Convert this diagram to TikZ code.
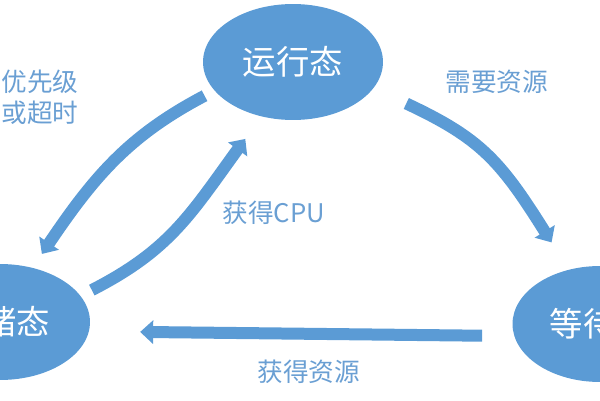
\documentclass[tikz,border=0pt]{standalone}
\usepackage{fontspec}
\newfontfamily\cjk{Noto Sans CJK SC}
\usetikzlibrary{arrows.meta,shapes.geometric}
\definecolor{stateblue}{HTML}{5B9BD5}
\definecolor{labelblue}{HTML}{6A9FD3}

\tikzset{
    state/.style={ellipse, fill=stateblue, text=white, minimum width=3.6cm, minimum height=2.32cm, inner sep=0pt, font=\cjk\fontsize{19}{22}\selectfont},
    flow/.style={draw=stateblue, line width=0.24cm, -{Triangle[width=0.46cm,length=0.26cm]}},
    lbl/.style={text=labelblue, inner sep=0pt, font=\cjk\fontsize{14.6}{17}\selectfont}
}

\begin{document}
\begin{tikzpicture}[x=0.02cm, y=0.02cm]
    \useasboundingbox (0,0) rectangle (600,400);
    \clip (0,0) rectangle (600,400);

    \node[state] (run) at (293,338) {运行态};
    \node[state] (ready) at (0,78) {就绪态};
    \node[state, minimum width=3.5cm] (wait) at (600,76) {等待态};

    \node[lbl, anchor=east] (prio) at (79,318) {优先级};
    \node[lbl, anchor=east] (tout) at (79,287) {或超时};
    \node[lbl] (need) at (497,318) {需要资源};
    \node[lbl, anchor=west] (cpu) at (222,187) {获得CPU};
    \node[lbl] (got) at (309,28) {获得资源};

    \draw[flow, shorten <=0.22cm, shorten >=0.33cm] (run.200) .. controls (130,265) and (95,225) .. (ready.59);
    \draw[flow, shorten <=0.25cm, shorten >=0.55cm] (ready.18) .. controls (170,150) and (190,185) .. (run.240);
    \draw[flow, shorten <=0.72cm, shorten >=0.64cm] (run.342) .. controls (480,262) and (500,240) .. (wait.120);
    \draw[flow, shorten <=0.64cm, shorten >=1.02cm] (wait.188) -- (ready.-6.5);
\end{tikzpicture}
\end{document}
